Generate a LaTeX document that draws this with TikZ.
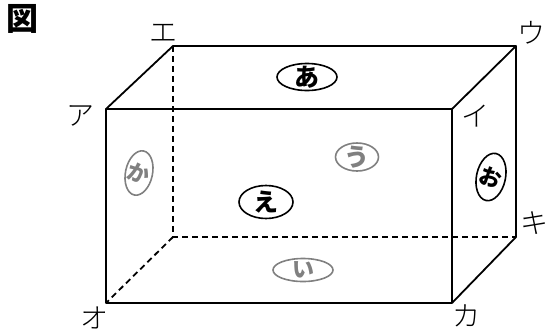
\documentclass[tikz,border=0pt]{standalone}
\usepackage{fontspec}
\setmainfont{Noto Sans CJK JP}
\newfontfamily\jplight{Noto Sans CJK JP Light}
\usetikzlibrary{shapes.geometric}
\tikzstyle{edge} = [line width=1.8pt, line join=round]
\tikzstyle{hidden} = [edge, dash pattern=on 6pt off 4pt]
\tikzstyle{corner} = [inner sep=0pt, font=\jplight\fontsize{28}{28}\selectfont]
\tikzstyle{face} = [draw, ellipse, line width=1.6pt, inner sep=0pt]
\tikzstyle{backface} = [face, draw=gray]
\tikzstyle{facetext} = [inner sep=0pt, font=\fontsize{25}{25}\selectfont\bfseries]
\tikzstyle{backtext} = [facetext, text=gray]

\begin{document}
\begin{tikzpicture}[x=1pt,y=-1pt]
\useasboundingbox (0,0) rectangle (547,333);
% corners of the box
\coordinate (a) at (106,109);
\coordinate (i) at (452,109);
\coordinate (u) at (516,46);
\coordinate (e) at (173,46);
\coordinate (o) at (106,303);
\coordinate (ka) at (452,303);
\coordinate (ki) at (516,237);
\coordinate (back) at (173,237);
% hidden edges
\draw[hidden] (e) -- (back) -- (ki);
\draw[hidden] (back) -- (o);
% visible edges
\draw[edge] (a) -- (i) -- (ka) -- (o) -- cycle;
\draw[edge] (a) -- (e) -- (u) -- (i);
\draw[edge] (u) -- (ki) -- (ka);
% corner labels
\node[corner] (la) at (80,116) {ア};
\node[corner] (li) at (475,116) {イ};
\node[corner] (lu) at (531,33) {ウ};
\node[corner] (le) at (163,33) {エ};
\node[corner] (lo) at (94,318) {オ};
\node[corner] (lka) at (466,316) {カ};
\node[corner] (lki) at (534,223) {キ};
% faces
\node[face, minimum width=60pt, minimum height=27pt] (top) at (307,77) {};
\node[facetext] (toptext) at (top) {あ};
\node[face, minimum width=54pt, minimum height=33pt] (front) at (266,202) {};
\node[facetext] (fronttext) at (front) {え};
\node[face, minimum width=29pt, minimum height=48pt, rotate=-12] (right) at (491,177) {};
\node[facetext, font=\fontsize{22}{22}\selectfont\bfseries, rotate=-20] (righttext) at (right) {お};
\node[backface, minimum width=43pt, minimum height=28pt] (rear) at (357,157) {};
\node[backtext] (reartext) at (rear) {う};
\node[backface, minimum width=60pt, minimum height=23pt] (bottom) at (303,270) {};
\node[backtext, font=\fontsize{22}{22}\selectfont\bfseries] (bottomtext) at (bottom) {い};
\node[backface, minimum width=27pt, minimum height=45pt, rotate=-12] (left) at (139,173) {};
\node[backtext, font=\fontsize{22}{22}\selectfont\bfseries, rotate=-20] (lefttext) at (left) {か};
% title
\node[font=\fontsize{32}{32}\selectfont\bfseries, inner sep=0pt] (title) at (22,19) {図};
\end{tikzpicture}
\end{document}
